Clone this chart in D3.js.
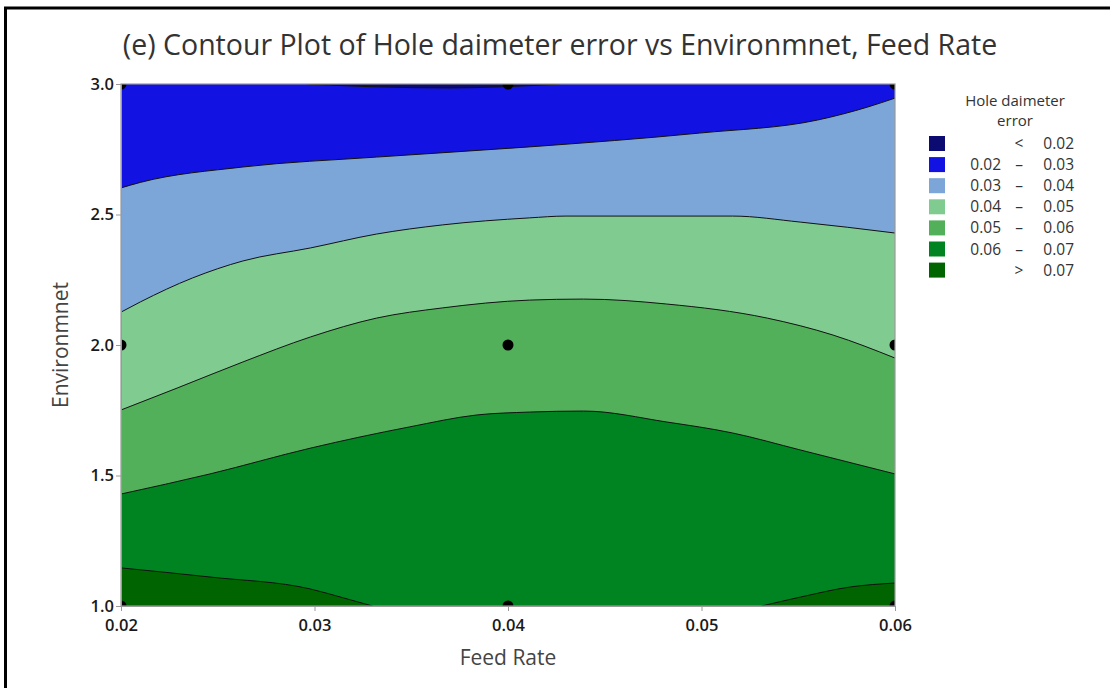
<!DOCTYPE html>
<html>
<head>
<meta charset="utf-8">
<script src="https://cdn.jsdelivr.net/npm/d3@7"></script>
<style>
  html, body { margin: 0; padding: 0; background: #fff; }
  #vis1 { width: 1110px; height: 688px; }
  text { font-family: "Open Sans", "Noto Sans", sans-serif; }
</style>
</head>
<body>
<div id="vis1"></div>
<script>
/*
Data
*/

// design points of the experiment
const feedRates = [0.02, 0.04, 0.06];
const environments = [1, 2, 3];

// contour lines as [feed rate, environment] pairs
const contour002 = [[0.0296, 3.0], [0.0332, 2.989], [0.0370, 2.985], [0.0396, 2.989], [0.0427, 3.0]];
const contour003 = [[0.0200, 2.602], [0.0210, 2.623], [0.0263, 2.682], [0.0332, 2.720], [0.0411, 2.759],
                    [0.0499, 2.812], [0.0560, 2.862], [0.0586, 2.912], [0.0600, 2.946]];
const contour004 = [[0.0200, 2.126], [0.0210, 2.165], [0.0237, 2.257], [0.0263, 2.322], [0.0298, 2.372],
                    [0.0332, 2.425], [0.0366, 2.460], [0.0411, 2.487], [0.0430, 2.494], [0.0516, 2.494],
                    [0.0551, 2.471], [0.0600, 2.429]];
const contour005 = [[0.0200, 1.751], [0.0229, 1.835], [0.0263, 1.935], [0.0298, 2.031], [0.0332, 2.103],
                    [0.0366, 2.142], [0.0411, 2.172], [0.0439, 2.176], [0.0482, 2.157], [0.0534, 2.103],
                    [0.0568, 2.038], [0.0600, 1.950]];
const contour006 = [[0.0200, 1.429], [0.0246, 1.506], [0.0298, 1.605], [0.0349, 1.686], [0.0384, 1.732],
                    [0.0411, 1.743], [0.0439, 1.747], [0.0482, 1.705], [0.0516, 1.663], [0.0551, 1.598],
                    [0.0600, 1.506]];
const contour007Left = [[0.0200, 1.146], [0.0246, 1.111], [0.0298, 1.065], [0.0315, 1.031], [0.0330, 1.0]];
const contour007Right = [[0.0531, 1.0], [0.0551, 1.034], [0.0577, 1.073], [0.0600, 1.088]];

// legend
const legendLow = ["", "0.02", "0.03", "0.04", "0.05", "0.06", ""];
const legendSym = ["<", "–", "–", "–", "–", "–", ">"];
const legendHigh = ["0.02", "0.03", "0.04", "0.05", "0.06", "0.07", "0.07"];
const bandColors = ["#0b0b72", "#1212e2", "#7ba6d7", "#80cc90", "#52b05b", "#008421", "#006500"];

const xTicks = [0.02, 0.03, 0.04, 0.05, 0.06];
const yTicks = [1.0, 1.5, 2.0, 2.5, 3.0];

/*
Size constants
*/

const WIDTH = 1110;
const HEIGHT = 688;
const margin = {top: 84, right: 215, bottom: 82, left: 121};
const width = WIDTH - margin.left - margin.right;
const height = HEIGHT - margin.top - margin.bottom;

const svg = d3.select("#vis1")
                .append("svg")
                .attr("width", WIDTH)
                .attr("height", HEIGHT);

// outer frame (only top and left show in the picture)
svg.append("rect")
    .attr("x", 5.5)
    .attr("y", 8)
    .attr("width", 1200)
    .attr("height", 800)
    .attr("fill", "none")
    .attr("stroke", "black")
    .attr("stroke-width", 3);

svg.append("text")
    .attr("x", 560)
    .attr("y", 55)
    .attr("text-anchor", "middle")
    .attr("font-size", 28.5)
    .attr("fill", "#333")
    .text("(e) Contour Plot of Hole daimeter error vs Environmnet, Feed Rate");

/*
Scales
*/

const x = d3.scaleLinear().domain([0.02, 0.06]).range([0, width]);
const y = d3.scaleLinear().domain([1, 3]).range([height, 0]);

const plot = svg.append("g")
                .attr("transform", `translate(${margin.left}, ${margin.top})`);

plot.append("clipPath")
    .attr("id", "clip")
    .append("rect")
    .attr("width", width)
    .attr("height", height);

const bands = plot.append("g").attr("clip-path", "url(#clip)");

// base colour: 0.06 - 0.07
bands.append("rect")
        .attr("width", width)
        .attr("height", height)
        .attr("fill", bandColors[5]);

const curve = d3.curveMonotoneX;
const areaAbove = d3.area().curve(curve).x(d => x(d[0])).y0(y(3)).y1(d => y(d[1]));
const areaBelow = d3.area().curve(curve).x(d => x(d[0])).y0(y(1)).y1(d => y(d[1]));
const line = d3.line().curve(curve).x(d => x(d[0])).y(d => y(d[1]));

// fill from the highest level up to the top
const above = [[contour006, 4], [contour005, 3], [contour004, 2], [contour003, 1], [contour002, 0]];
above.forEach(([pts, c]) => {
    bands.append("path").attr("d", areaAbove(pts)).attr("fill", bandColors[c]);
});
[contour007Left, contour007Right].forEach(pts => {
    bands.append("path").attr("d", areaBelow(pts)).attr("fill", bandColors[6]);
});

[contour002, contour003, contour004, contour005, contour006, contour007Left, contour007Right].forEach(pts => {
    bands.append("path")
        .attr("d", line(pts))
        .attr("fill", "none")
        .attr("stroke", "#111")
        .attr("stroke-width", 1);
});

// design points
const points = d3.cross(feedRates, environments);
bands.selectAll("circle")
        .data(points)
        .enter()
        .append("circle")
        .attr("cx", d => x(d[0]))
        .attr("cy", d => y(d[1]))
        .attr("r", 5.5)
        .attr("fill", "black");

// plot border
plot.append("rect")
    .attr("width", width)
    .attr("height", height)
    .attr("fill", "none")
    .attr("stroke", "#9a9a9a")
    .attr("stroke-width", 1.2);

/*
Axes
*/

const xAxis = plot.append("g")
                .attr("transform", `translate(0, ${height})`)
                .call(d3.axisBottom(x).tickValues(xTicks).tickFormat(d3.format(".2f")).tickSizeInner(5).tickSizeOuter(0));
const yAxis = plot.append("g")
                .call(d3.axisLeft(y).tickValues(yTicks).tickFormat(d3.format(".1f")).tickSizeInner(5).tickSizeOuter(0));

[xAxis, yAxis].forEach(ax => {
    ax.select(".domain").attr("stroke", "#9a9a9a");
    ax.selectAll(".tick line").attr("stroke", "#9a9a9a");
    ax.selectAll(".tick text")
        .attr("font-family", "'Open Sans', sans-serif")
        .attr("font-size", 16.5)
        .attr("font-weight", 600)
        .attr("fill", "#1a1a1a");
});
xAxis.selectAll(".tick text").attr("dy", "1.05em");
yAxis.selectAll(".tick text").attr("x", -7);

svg.append("text")
    .attr("x", margin.left + width / 2)
    .attr("y", 665)
    .attr("text-anchor", "middle")
    .attr("font-size", 21)
    .attr("fill", "#444")
    .text("Feed Rate");

svg.append("text")
    .attr("transform", `translate(68, ${margin.top + height / 2}) rotate(-90)`)
    .attr("text-anchor", "middle")
    .attr("font-size", 21)
    .attr("fill", "#444")
    .text("Environmnet");

/*
Legend
*/

const legend = svg.append("g").attr("font-size", 15.5).attr("fill", "#333");

legend.append("text").attr("x", 1015).attr("y", 106).attr("text-anchor", "middle")
        .attr("font-size", 15).text("Hole daimeter");
legend.append("text").attr("x", 1015).attr("y", 126).attr("text-anchor", "middle")
        .attr("font-size", 15).text("error");

const rows = legend.selectAll("g.row")
                    .data(bandColors)
                    .enter()
                    .append("g")
                    .attr("class", "row")
                    .attr("transform", (d, i) => `translate(0, ${144 + i * 21.1})`);

rows.append("rect")
    .attr("x", 929)
    .attr("y", -8)
    .attr("width", 16)
    .attr("height", 15)
    .attr("fill", d => d);

rows.append("text").attr("x", 1001).attr("y", 5).attr("text-anchor", "end").text((d, i) => legendLow[i]);
rows.append("text").attr("x", 1019).attr("y", 5).attr("text-anchor", "middle").text((d, i) => legendSym[i]);
rows.append("text").attr("x", 1074).attr("y", 5).attr("text-anchor", "end").text((d, i) => legendHigh[i]);
</script>
</body>
</html>
